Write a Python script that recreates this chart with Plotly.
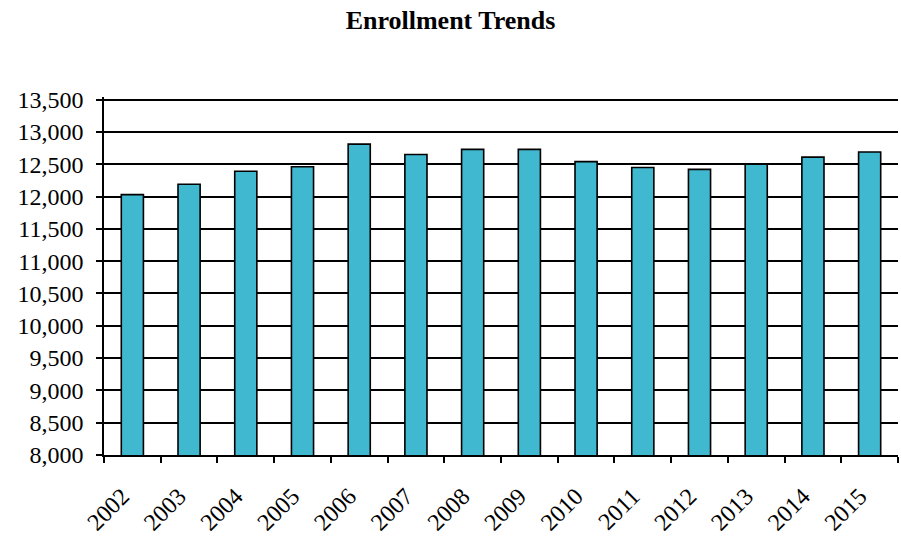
import plotly.graph_objects as go

years = ["2002", "2003", "2004", "2005", "2006", "2007", "2008",
         "2009", "2010", "2011", "2012", "2013", "2014", "2015"]
enrollment = [12030, 12190, 12390, 12460, 12810, 12650, 12730,
              12730, 12540, 12450, 12420, 12500, 12610, 12690]
y_ticks = list(range(8000, 13501, 500))

fig = go.Figure(go.Bar(
    x=years, y=enrollment,
    marker=dict(color="#40B8CF", line=dict(color="black", width=1.6)),
    width=0.39,
))

font = "Liberation Serif, Times New Roman, serif"
fig.update_layout(
    width=901, height=539,
    margin=dict(l=104, r=3, t=97, b=84),
    paper_bgcolor="white", plot_bgcolor="white",
    title=dict(text="<b>Enrollment Trends</b>", x=0.5, xanchor="center",
               y=1 - 20 / 539, yanchor="middle", yref="container",
               font=dict(family=font, size=26, color="black")),
    font=dict(family=font, size=24, color="black"),
    showlegend=False,
)
fig.update_xaxes(
    type="category", tickson="boundaries", ticks="outside", ticklen=6,
    tickwidth=1.5, tickcolor="black", showline=True, linecolor="black",
    linewidth=1.5, showgrid=False, tickangle=-45,
    ticklabelstandoff=16, ticklabelshift=-10,
    tickfont=dict(family=font, size=24, color="black"),
)
fig.update_yaxes(
    range=[8000, 13540], tickvals=y_ticks,
    ticktext=[f"{v:,}" for v in y_ticks],
    ticks="outside", ticklen=6, tickwidth=1.5, tickcolor="black",
    showline=True, linecolor="black", linewidth=1.5, ticklabelstandoff=8,
    showgrid=True, gridcolor="black", gridwidth=1.5,
    zeroline=False, tickfont=dict(family=font, size=24, color="black"),
)
fig.write_html("out.html")
